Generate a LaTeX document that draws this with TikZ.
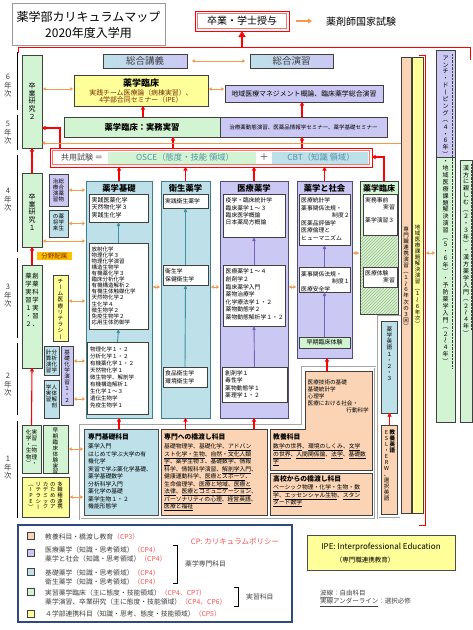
\documentclass[tikz,border=0pt]{standalone}
\usepackage{fontspec}
\setmainfont{Noto Sans CJK JP}
\usepackage{graphicx}
\usetikzlibrary{arrows.meta,patterns,decorations.pathmorphing}
\definecolor{cgreen}{HTML}{D2F4D2}
\definecolor{clav}{HTML}{CCC8F4}
\definecolor{cblue}{HTML}{BEE0E8}
\definecolor{cpeach}{HTML}{FAD4B4}
\definecolor{cyel}{HTML}{FFFF99}
\definecolor{corange}{HTML}{F59A4A}
\definecolor{cred}{HTML}{FF0000}
\definecolor{cpink}{HTML}{FF5050}
\definecolor{cteal}{HTML}{3F8FA5}
\definecolor{cpurp}{HTML}{7464B8}
\definecolor{cbord}{HTML}{404040}
\definecolor{ctealb}{HTML}{3E7E8E}
\definecolor{cpurpb}{HTML}{4E4E80}
\definecolor{cnavy}{HTML}{2F4A80}
\definecolor{cgold}{HTML}{FFC000}
\definecolor{cbrown}{HTML}{7A2E00}
\definecolor{cosce}{HTML}{4F93A6}
\definecolor{chatch}{HTML}{A8B888}
\newcommand\fs[2]{\fontsize{#1}{#2}\selectfont}
\newcommand\bx[6]{\node[#2,anchor=north west,inner sep=0pt,outer sep=0pt,minimum width={#5-#3},minimum height={#6-#4}] (#1) at (#3,#4) {};}
\newcommand\emb[1]{\hbox to 1em{\hss\vrule height .88em depth .12em width 0pt #1\hss}}
\newcommand\vr[1]{\rotatebox[origin=c]{-90}{\emb{#1}}}
\newcommand\vL{\vr{（}}
\newcommand\vR{\vr{）}}
\newcommand\vB{\vr{ー}}
\newcommand\vT{\vr{～}}
\newcommand\ud[1]{\underline{#1}}
\makeatletter
\newcommand\vt[2][1.05]{\vtop{\offinterlineskip\def\vt@f{#1}\vt@l#2\relax}}
\def\vt@l#1{\ifx#1\relax\else\hbox to 1.05em{\hss\vrule height \vt@f\dimexpr.86em\relax depth \vt@f\dimexpr.14em\relax width 0pt\relax#1\hss}\expandafter\vt@l\fi}
\makeatother
\begin{document}
\begin{tikzpicture}[x=1pt,y=-1pt,
  bxs/.style={draw=cbord,line width=.5pt},
  wbox/.style={draw=cbord,line width=.4pt,fill=white},
  ra/.style={cred,line width=1.1pt,-{Triangle[length=3.5pt,width=4.2pt]}},
  oa/.style={corange,line width=1pt,{Triangle[length=2.6pt,width=3.4pt]}-{Triangle[length=2.6pt,width=3.4pt]},shorten <=1pt,shorten >=1pt},
  ta/.style={cteal,line width=.9pt,-{Triangle[length=4pt,width=3.2pt]}},
  pa/.style={cpurp,line width=.9pt,-{Triangle[length=4pt,width=3.2pt]}},
  lst/.style={inner sep=0pt,anchor=north west,align=left},
  rlst/.style={inner sep=0pt,anchor=north east,align=right},
  vtx/.style={inner sep=0pt},
  hd/.style={inner sep=0pt,font=\bfseries\fs{8.3}{9}},
  yr/.style={inner sep=0pt,font=\fs{7.5}{8},text=cbord},
  yl/.style={line width=1pt,black},
  lg/.style={inner sep=0pt,anchor=west,font=\fs{6.8}{8},text=cbord},
  bh/.style={inner sep=0pt,anchor=west,font=\bfseries\fs{6.8}{8}},
]
\useasboundingbox (0,0) rectangle (473,630);
\fill[white] (0,0) rectangle (473,630);

% ---------- title and graduation
\bx{title}{draw=gray!80,line width=.6pt,fill=white}{12}{3}{165}{45}
\node[inner sep=0pt,font=\fs{12}{14}] (tt1) at (88.5,17) {薬学部カリキュラムマップ};
\node[inner sep=0pt,font=\fs{12}{14}] (tt2) at (88.5,33) {2020年度入学用};
\bx{grad}{draw=cred,line width=1pt,fill=white}{195}{11}{289}{31}
\draw[cred!55,line width=.6pt] (197.5,13.5) rectangle (286.5,28.5);
\node[inner sep=0pt,font=\fs{10}{11}] (gradt) at (grad.center) {卒業・学士授与};
\node[anchor=west,inner sep=0pt,font=\fs{10}{11}] (kokushi) at (326,22) {薬剤師国家試験};
\draw[corange,line width=1.6pt,-{Triangle[length=4pt,width=5pt]}] ([xshift=7pt]grad.east) -- ([xshift=-14pt]kokushi.west |- grad.east);
\draw[cred,line width=1pt] (18,53) -- (18,47) -- (470,47) -- (470,60);
\draw[cred,line width=2.2pt,-{Triangle[length=6pt,width=7pt]}] (grad.south |- 0,47) -- (grad.south);

% ---------- year labels
\draw[yl] (17,52) -- (17,110);
\draw[yl] (17,115) -- (17,150);
\draw[yl] (17,155) -- (17,252);
\draw[yl] (17,258) -- (17,338);
\draw[yl] (17,343) -- (17,415);
\draw[yl] (17,421) -- (17,518);
\node[yr] (yr6) at (8,85) {\vt[1.15]{6年次}};
\node[yr] (yr5) at (8,132) {\vt[1.15]{5年次}};
\node[yr] (yr4) at (8,199) {\vt[1.15]{4年次}};
\node[yr] (yr3) at (8,295) {\vt[1.15]{3年次}};
\node[yr] (yr2) at (8,384) {\vt[1.15]{2年次}};
\node[yr] (yr1) at (8,467) {\vt[1.15]{1年次}};

% ---------- 6th year
\bx{sk2}{bxs,fill=cgreen}{22}{55}{42}{148}
\node[vtx,font=\fs{7}{8}] (sk2t) at (32,101) {\vt[1.1]{卒業研究２}};
\bx{sogo}{bxs,left color=cblue,right color=clav}{103}{54}{187}{68}
\node[inner sep=0pt,font=\fs{9.5}{10},text=cbord] (sogot) at (sogo.center) {総合講義};
\bx{sogoen}{bxs,left color=cblue,right color=clav}{250}{54}{333}{68}
\node[inner sep=0pt,font=\fs{9.5}{10},text=cbord] (sogoent) at (sogoen.center) {総合演習};
\draw[oa,shorten <=5pt,shorten >=5pt] (sogo.east) -- (sogoen.west);
\bx{y6}{bxs,fill=cyel}{74}{75}{208}{106}
\node[inner sep=0pt,font=\bfseries\fs{9}{10}] (y6a) at (141,83) {薬学臨床};
\node[inner sep=0pt,font=\fs{6.9}{8},text=cbrown] (y6b) at (141,92.5) {実践チーム医療論（病棟実習）、};
\node[inner sep=0pt,font=\fs{6.9}{8},text=cbrown] (y6c) at (141,100) {4学部合同セミナー（IPE）};
\bx{lav6}{bxs,fill=clav}{225}{85}{383}{102}
\node[inner sep=0pt,font=\fs{6.9}{8}] (lav6t) at (lav6.center) {地域医療マネジメント概論、臨床薬学総合演習};
\draw[oa] (sk2.east |- 0,89) -- (y6.west |- 0,89);
\draw[oa] (y6.east |- 0,89) -- (lav6.west |- 0,89);

% ---------- 5th year
\bx{jimu}{bxs,fill=cgreen}{64}{117}{220}{137}
\node[inner sep=0pt,font=\bfseries\fs{8.3}{9}] (jimut) at (jimu.center) {薬学臨床：実務実習};
\bx{lav5}{bxs,fill=clav}{220}{117}{387}{137}
\node[inner sep=0pt,font=\fs{5.5}{7}] (lav5t) at (lav5.center) {治療薬動態演習、医薬品情報学セミナー、薬学基礎セミナー};
\draw[ra] (143,0 |- jimu.north) -- (143,0 |- y6.south);
\draw[ra] (302,0 |- lav5.north) -- (302,0 |- lav6.south);

% ---------- OSCE / CBT
\bx{osce}{draw=cred,line width=1pt,fill=white}{50}{148}{372}{167}
\bx{osceg}{fill=cgreen}{108}{151.5}{256}{164}
\bx{cbtb}{fill=cblue}{272}{151.5}{368}{164}
\draw[cred!55,line width=.6pt] (52.5,150.5) rectangle (369.5,164.5);
\node[inner sep=0pt,font=\fs{8}{9},text=cbord] (kyoyot) at (82,157.5) {共用試験 ＝};
\node[inner sep=0pt,font=\fs{8.3}{9},text=cosce] (oscet) at (185,157.5) {OSCE（態度・技能 領域）};
\node[inner sep=0pt,font=\fs{9}{9},text=cbord] (plus) at (264,157.5) {＋};
\node[inner sep=0pt,font=\fs{8.3}{9},text=cosce] (cbtt) at (321,157.5) {CBT（知識 領域）};
\draw[ra] (173,0 |- osce.north) -- (173,0 |- jimu.south);
\draw[ra] (302,0 |- osce.north) -- (302,0 |- lav5.south);
\draw[ra] (60,0 |- osce.north) -- (60,128) -- (sk2.east |- 0,128);
\draw[corange,line width=1pt,-{Triangle[length=3pt,width=3.6pt]}] (401,143) -- (sk2.east |- 0,143);

% ---------- left column 4th-1st year
\bx{sk1}{bxs,fill=cgreen}{22}{173}{42}{247}
\node[vtx,font=\fs{7}{8}] (sk1t) at (32,212) {\vt[1.1]{卒業研究１}};
\draw[ra] (sk1.north) -- (sk2.south);
\bx{tyaku}{bxs,fill=clav}{49}{174}{68}{206}
\node[vtx,anchor=north,font=\fs{5.5}{6}] (tyakut) at (58.5,178) {\vt[1.1]{治療演習}\vt[1.1]{総合薬物}};
\bx{shorai}{bxs,fill=cblue}{49}{210}{68}{237}
\node[vtx,anchor=north,font=\fs{5.5}{6}] (shorait) at (58.5,213) {\vt[1.1]{の将来}\vt[1.1]{薬学生}};
\bx{haizoku}{fill=cgold}{37}{252}{72}{260}
\node[inner sep=0pt,font=\fs{6.5}{7},text=cbrown] (haizokut) at (haizoku.center) {分野配属};
\bx{jitsu3}{bxs,fill=cgreen}{22}{265}{42}{368}
\node[vtx,anchor=north,font=\fs{6.3}{7}] (jitsu3t) at (32,272) {\vt[1.25]{薬学実習１・２}\hspace{.5pt}\vt[1.25]{創薬科学実習、}};
\draw[ra] (jitsu3.north) -- (sk1.south);
\bx{team}{bxs,fill=cyel}{53}{275}{68}{341}
\node[vtx,anchor=north,font=\fs{5.6}{6}] (teamt) at (60.5,278) {\vt[1.1]{チ\vB ム医療リテラシ\vB}};
\bx{bunseki}{bxs,fill=cblue}{44}{346}{59}{375}
\node[vtx,anchor=north,font=\fs{5.5}{6}] (bunsekit) at (51.5,349) {\vt[1.1]{計算演習}\vt[1.1]{分析化学}};
\bx{kisoen}{bxs,fill=clav}{61}{346}{73}{405}
\node[vtx,anchor=north,font=\fs{5.5}{6}] (kisoent) at (67,349) {\vt[1.1]{基礎化学演習１・２}};
\bx{jintai}{bxs,fill=cblue}{44}{380}{59}{418}
\node[vtx,anchor=north,font=\fs{5.5}{6}] (jintait) at (51.5,384) {\vt[1.1]{学実習}\vt[1.1]{人体解剖}};
\bx{jitsu1}{bxs,fill=cgreen}{22}{425}{41}{473}
\node[vtx,anchor=north,font=\fs{5.6}{6}] (jitsu1t) at (31.5,429) {\vt[1.1]{化学・生物\vR}\vt[1.1]{実習\vL 物理・}};
\draw[ra] (jitsu1.north) -- (jitsu3.south);
\bx{soki1}{bxs,fill=cgreen}{43}{425}{68}{473}
\node[vtx,anchor=north,font=\fs{5.6}{6}] (soki1t) at (55.5,427.5) {\vt[1.05]{早期臨床体験実習}};
\bx{tashoku}{bxs,fill=cyel}{22}{477}{69}{517}
\node[vtx,anchor=north,font=\fs{5.4}{6}] (tashokut) at (45.5,481) {\vt[1.05]{\vL IPE\vR}\hspace{1.6pt}\vt[1.05]{リテラシ\vB}\hspace{1.6pt}\vt[1.05]{カデミック}\hspace{1.6pt}\vt[1.05]{のためのア}\hspace{1.6pt}\vt[1.05]{多職種連携}};

% ---------- 薬学基礎
\bx{kiso}{draw=ctealb,line width=.7pt,fill=cblue}{86}{181}{152}{418}
\node[hd] (kisoh) at (119,188.5) {薬学基礎};
\bx{k1}{wbox}{89}{194}{148}{222}
\node[lst,font=\fs{6}{7.5}] (k1t) at (91.5,197) {実践医薬化学\\天然物化学３\\実践生化学};
\bx{k2}{wbox}{89}{243}{148}{329}
\node[lst,font=\fs{5.5}{6.1}] (k2t) at (91.5,246.3) {放射化学\\物理化学３\\物理化学演習\\構造生物学\\有機薬化学３\\臨床分析化学\\有機構造解析２\\有機生体触媒化学\\天然物化学２\\生化学４\\微生物学２\\免疫生物学２\\応用生体防御学};
\bx{k3}{wbox}{87}{342}{148}{414}
\node[lst,font=\fs{5.5}{7}] (k3t) at (90,346.3) {物理化学１・２\\分析化学１・２\\有機薬化学１・２\\天然物化学１\\微生物学、解剖学\\有機構造解析１\\生化学１～３\\遺伝生物学\\免疫生物学１};
\draw[ta] (k2.north) -- (k1.south);
\draw[ta] (k3.north) -- (k2.south);

% ---------- 衛生薬学
\bx{eisei}{draw=ctealb,line width=.7pt,fill=cblue}{161}{181}{210}{418}
\node[hd] (eiseih) at (185.5,188.5) {衛生薬学};
\bx{e1}{wbox}{163}{194}{208}{208}
\node[lst,font=\fs{5.8}{7}] (e1t) at (165,198.3) {実践衛生薬学};
\bx{e2}{wbox}{163}{265}{208}{285}
\node[lst,font=\fs{5.8}{7.8}] (e2t) at (165,268.3) {衛生学\\保健衛生学};
\bx{e3}{wbox}{163}{367}{207}{387}
\node[lst,font=\fs{5.8}{7.8}] (e3t) at (165,370.3) {食品衛生学\\環境衛生学};
\draw[ta] (e2.north) -- (e1.south);
\draw[ta] (e3.north) -- (e2.south);

% ---------- 医療薬学
\bx{iryo}{draw=cpurpb,line width=.7pt,fill=clav}{220}{181}{288}{418}
\node[hd] (iryoh) at (254,188.5) {医療薬学};
\bx{i1}{wbox}{223}{194}{285}{237}
\node[lst,font=\fs{5.8}{7.3}] (i1t) at (225.5,197.8) {疫学・臨床統計学\\臨床薬学１～３\\臨床医学概論\\日本薬局方概論};
\bx{i2}{wbox}{223}{265}{285}{326}
\node[lst,font=\fs{5.8}{7.6}] (i2t) at (225.5,268.8) {医療薬学１～４\\創剤学２\\臨床薬学入門\\薬物治療学\\化学療法学１・２\\薬物動態学２\\薬物動態解析学１・２};
\bx{i3}{wbox}{222}{367}{287}{402}
\node[lst,font=\fs{5.8}{7.3}] (i3t) at (225,370.5) {創剤学１\\毒性学\\薬物動態学１\\薬理学１・２};
\draw[pa] (i2.north) -- (i1.south);
\draw[pa] (i3.north) -- (i2.south);

% ---------- 薬学と社会
\bx{shakai}{draw=cpurpb,line width=.7pt,fill=clav}{297}{181}{352}{358}
\node[hd] (shakaih) at (324.5,188.5) {薬学と社会};
\bx{s1}{wbox}{299}{194}{350}{245}
\node[lst,font=\fs{5.8}{7.6}] (s1t) at (301,197.3) {医療統計学\\薬事関係法規・\\\hspace*{31pt}制度２\\医薬品評価学\\医療倫理と\\ヒューマニズム};
\bx{s2}{wbox}{299}{267}{350}{292}
\node[lst,font=\fs{5.8}{7.5}] (s2t) at (301,271.3) {薬事関係法規・\\\hspace*{31pt}制度１\\医療安全学};
\bx{soki}{bxs,fill=cgreen}{299}{337}{350}{348}
\node[inner sep=0pt,font=\fs{6}{7}] (sokit) at (soki.center) {早期臨床体験};
\draw[pa] (s2.north) -- (s1.south);
\draw[pa] (soki.north) -- (s2.south);

% ---------- 薬学臨床 column
\bx{kr}{bxs,fill=cgreen}{360}{181}{398}{314}
\fill[pattern=north east lines,pattern color=chatch] (360.6,236) rectangle (397.4,313.4);
\node[hd,font=\bfseries\fs{8}{9}] (krh) at (379,188) {薬学臨床};
\bx{kr1}{wbox}{363}{194}{397}{235}
\node[lst,font=\fs{5.8}{7}] (kr1t) at (365,197.3) {実務事前\\\hspace*{18pt}実習};
\node[lst,font=\fs{5.8}{7}] (kr1u) at (365,217.3) {薬学演習３};
\bx{kr2}{wbox}{363}{267}{397}{287}
\node[lst,font=\fs{5.8}{7.5}] (kr2t) at (365,270.3) {医療体験\\\hspace*{18pt}実習};

% ---------- arrows to OSCE
\draw[ra] (kiso.north) -- (kiso.north |- osce.south);
\draw[ra] (eisei.north) -- (eisei.north |- osce.south);
\draw[ra] (iryo.north) -- (iryo.north |- osce.south);
\draw[ra] (shakai.north) -- (shakai.north |- osce.south);
\draw[ra] (384,0 |- kr.north) -- (384,157) -- (osce.east |- 0,157);

% ---------- orange links between columns
\draw[oa] (tyaku.east) -- (kiso.west |- tyaku.east);
\draw[oa] (shorai.east) -- (kiso.west |- shorai.east);
\draw[oa] (sk1.east |- 0,241) -- (kiso.west |- 0,241);
\draw[oa] (team.east |- 0,301) -- (kiso.west |- 0,301);
\draw[oa] (kisoen.east |- 0,361) -- (kiso.west |- 0,361);
\draw[oa] (kisoen.east |- 0,399) -- (kiso.west |- 0,399);
\draw[oa] (kiso.east |- 0,287) -- (eisei.west |- 0,287);
\draw[oa] (eisei.east |- 0,287) -- (iryo.west |- 0,287);
\draw[oa] (iryo.east |- 0,287) -- (shakai.west |- 0,287);
\draw[oa] (shakai.east |- 0,253) -- (kr.west |- 0,253);

% ---------- tall bars
\bx{pbar}{bxs,fill=cpeach}{401}{57}{411}{513}
\node[vtx,anchor=north,font=\fs{5.5}{6}] (pbart) at (406,226) {\vt[1.1]{専門職連携演習\vL １\vT ６年次の３回\vR}};
\bx{ybar}{bxs,fill=cyel}{412}{57}{423}{513}
\node[vtx,anchor=north,font=\fs{5.5}{6}] (ybart) at (417.5,224) {\vt[1.1]{地域医療課題解決演習\vL １\vT ６年次\vR}};
\draw[cred,line width=1pt] (419,55) -- (425,55) -- (425,525) -- (419,525);
\coordinate (rb) at (425,253);
\bx{rc1a}{bxs,fill=clav}{436}{50}{455}{157}
\bx{rc1b}{bxs,fill=cgreen}{436}{157}{455}{422}
\node[vtx,anchor=north,font=\fs{6}{7}] (rc1t) at (445.5,54) {\vt[1.15]{アンチ・ド\vB ピング\vL ４・６年\vR ・地域医療課題解決演習\vL ５・６年\vR ・予防薬学入門\vL ２\vT ４年\vR}};
\draw[densely dotted,cbord] (452.5,54) -- (452.5,368);
\bx{rc2}{bxs,fill=cgreen}{460}{160}{472.5}{422}
\node[vtx,anchor=north,font=\fs{6}{7}] (rc2t) at (466,164) {\vt[1.15]{漢方に親しむ\vL ２・３年\vR ・漢方薬学入門\vL ２\vT ４年\vR}};
\draw[densely dotted,cbord] (471,164) -- (471,330);
\draw[oa] (rb) -- (rc1b.west |- rb);

% ---------- English frame
\bx{eigof}{draw=gray!70,double=white,double distance=.6pt,line width=.6pt}{378}{316}{400.5}{518}
\bx{yeigo}{bxs,fill=cblue}{381.5}{321}{397.5}{413}
\node[vtx,anchor=north,font=\fs{5.6}{6}] (yeigot) at (389.5,326) {\vt[1.1]{薬学英語１・２・３}};
\bx{kyeigo}{bxs,fill=cpeach}{381.5}{425}{397.5}{514}
\node[vtx,anchor=north,font=\fs{5.5}{6}] (kyeigot) at (389.5,429) {\vt[1.1]{ESL・ERW、選択英語}{\bfseries\vt[1.1]{教養英語}}};
\draw[ra] (kyeigo.north) -- (yeigo.south);

% ---------- bottom group
\draw[gray!70,double=white,double distance=.6pt,line width=.6pt] (80,425) -- (302,425) -- (302,367) -- (375,367) -- (375,519) -- (80,519) -- cycle;
\bx{senkiso}{draw=gray!60!black,line width=.6pt,fill=cblue}{84}{429}{158}{515}
\node[bh] (senkisoh) at (88,437) {専門基礎科目};
\node[lst,font=\fs{5.8}{7.5}] (senkisot) at (88,443.5) {薬学入門\\はじめて学ぶ大学の有\\機化学\\実習で学ぶ薬化学基礎、\\薬学基礎数学\\分析科学入門\\薬化学の基礎\\薬学生物１・２\\機能形態学};
\bx{hashi}{bxs,fill=cpeach}{161}{429}{267}{515}
\node[bh] (hashih) at (164,437) {専門への橋渡し科目};
\node[lst,font=\fs{5.8}{7.5}] (hashit) at (164,443.5) {基礎物理学、基礎化学、\ud{アドバン}\\\ud{スト化学・生物}、\ud{自然・文化人類}\\\ud{学}、薬学生物３、基礎数学、情報\\科学、情報科学演習、\ud{解剖学入門}、\\健康運動科学、\ud{医療とスポーツ}、\\生命倫理学、\ud{医療と地域}、\ud{医療と}\\\ud{法律}、\ud{医療とコミュニケーション}、\\\ud{パーソナリティの心理}、\ud{経営英語}、\\\ud{医療と福祉}};
\draw[bxs,fill=cpeach] (305,371) -- (372,371) -- (372,470) -- (270,470) -- (270,429) -- (305,429) -- cycle;
\coordinate (kyoT) at (327,371);
\node[lst,font=\fs{5.6}{7}] (kyoup) at (307.5,379.5) {医療技術の基礎\\基礎統計学\\心理学\\医療における社会・};
\node[rlst,font=\fs{5.6}{7}] (kyoup2) at (369,407.5) {行動科学};
\node[bh] (kyoh) at (273,437) {教養科目};
\node[lst,font=\fs{5.8}{7.5}] (kyot) at (273,443.5) {\ud{数学の世界}、\ud{環境のしくみ}、\ud{文学}\\\ud{の世界}、\ud{人間関係論}、\ud{法学}、\ud{基礎数}\\\ud{学}};
\bx{koko}{bxs,fill=cpeach}{270}{473}{372}{515}
\node[bh] (kokoh) at (273,478.5) {高校からの橋渡し科目};
\node[lst,font=\fs{5.8}{7.5}] (kokot) at (273,484.5) {\ud{ベーシック物理・化学・生物・数}\\\ud{学}、\ud{エッセンシャル生物}、\ud{スタン}\\\ud{ダード数学}};
\draw[ra] (senkiso.north -| kiso.south) -- (kiso.south);
\draw[ra] (hashi.north -| eisei.south) -- (eisei.south);
\draw[ra] (hashi.north -| iryo.south) -- (iryo.south);
\draw[ra] (kyoT) -- (kyoT |- shakai.south);
\draw[oa] (soki1.east) -- (senkiso.west |- soki1.east);
\draw[oa] (tashoku.east) -- (senkiso.west |- tashoku.east);

% ---------- legend
\bx{leg}{draw=cnavy,line width=1.3pt,fill=white}{18}{525}{292}{622}
\node[inner sep=0pt,font=\fs{7.5}{9},text=cpink] (cpt) at (235,541) {CP: カリキュラムポリシー};
\bx{sq1}{bxs,fill=cpeach}{27}{532}{34}{539}
\bx{sq2}{bxs,fill=clav}{27}{549}{34}{556}
\bx{sq3}{bxs,fill=cblue}{27}{568}{34}{575}
\bx{sq4}{bxs,fill=cgreen}{27}{588}{34}{595}
\bx{sq5}{bxs,fill=cyel}{27}{610}{34}{617}
\node[lg] (lg1) at (45,537) {教養科目・橋渡し教育\textcolor{cpink}{（CP3）}};
\node[lg] (lg2) at (45,550) {医療薬学（知識・思考領域）\textcolor{cpink}{（CP4）}};
\node[lg] (lg3) at (45,558.5) {薬学と社会（知識・思考領域）\textcolor{cpink}{（CP4）}};
\node[lg] (lg4) at (45,573) {基礎薬学（知識・思考領域）\textcolor{cpink}{（CP4）}};
\node[lg] (lg5) at (45,581.5) {衛生薬学（知識・思考領域）\textcolor{cpink}{（CP4）}};
\node[lg] (lg6) at (45,593) {実習薬学臨床（主に態度・技能領域）\textcolor{cpink}{（CP4、CP7）}};
\node[lg] (lg7) at (45,601.5) {薬学演習、卒業研究（主に態度・技能領域）\textcolor{cpink}{（CP4、CP6）}};
\node[lg] (lg8) at (45,613.5) {４学部連携科目（知識・思考、態度・技能領域）\textcolor{cpink}{（CP5）}};
\draw[line width=.9pt] (173,545) -- (177,545) -- (177,583) -- (173,583);
\node[lg] (senmon) at (185,564) {薬学専門科目};
\draw[line width=.9pt] (234,587) -- (238,587) -- (238,606) -- (234,606);
\node[lg] (jisshu) at (246,597) {実習科目};

% ---------- IPE and notes
\bx{ipe}{draw=gray!60!black,line width=.6pt,fill=cyel}{307}{535}{455}{570}
\node[inner sep=0pt,font=\fs{8}{9}] (ipet) at (381,547.5) {IPE: Interprofessional Education};
\node[inner sep=0pt,font=\fs{6.5}{8}] (ipeu) at (365,560.5) {（専門職連携教育）};
\node[inner sep=0pt,anchor=west,font=\fs{6.5}{8},text=cbord] (note1) at (320,593) {波線：自由科目};
\draw[cbord,line width=.4pt,decorate,decoration={snake,amplitude=.5pt,segment length=2pt}] (320,597.5) -- (333,597.5);
\node[inner sep=0pt,anchor=west,font=\fs{6.5}{8},text=cbord] (note2) at (320,602.5) {\ud{実線アンダーライン}：選択必修};
\end{tikzpicture}
\end{document}
